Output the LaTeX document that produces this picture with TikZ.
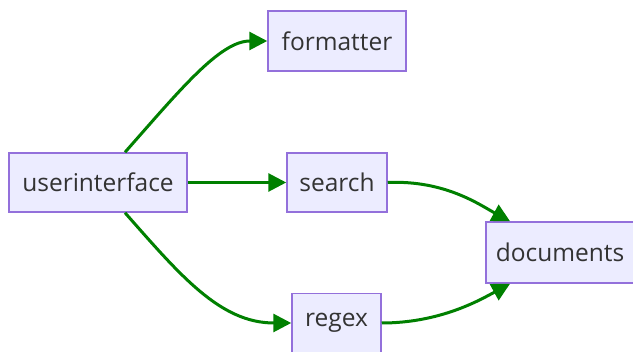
\documentclass[tikz,border=0pt]{standalone}
\usepackage{fontspec}
\setmainfont{Open Sans}
\usetikzlibrary{arrows.meta}
\definecolor{nodefill}{HTML}{ECECFF}
\definecolor{nodeline}{HTML}{9370DB}
\definecolor{edgegreen}{HTML}{008000}
\definecolor{txt}{HTML}{333333}
\begin{document}
\begin{tikzpicture}[x=1pt,y=-1pt,
  box/.style={draw=nodeline,fill=nodefill,line width=1.5pt,text=txt,font=\fontsize{24.5}{28}\selectfont,inner sep=0pt},
  edge/.style={draw=edgegreen,line width=3pt,-{Triangle[length=18pt,width=18pt]}}]
\useasboundingbox (0,0) rectangle (633,352);
\node[box,minimum width=178pt,minimum height=59pt] (ui) at (98,182.5) {userinterface};
\node[box,minimum width=138pt,minimum height=60pt] (formatter) at (337,41) {formatter};
\node[box,minimum width=100pt,minimum height=59pt] (search) at (337,182.5) {search};
\node[box,minimum width=89pt,minimum height=59pt] (regex) at (336.5,323) {regex};
\node[box,minimum width=148pt,minimum height=61pt] (documents) at (560,252.5) {documents};
\draw[edge] ([xshift=27pt]ui.north) .. controls (180,90) and (220,41) .. (formatter.west);
\draw[edge] (ui.east) -- (search.west);
\draw[edge] ([xshift=27pt]ui.south) .. controls (180,275) and (220,323) .. (regex.west);
\draw[edge] (search.east) .. controls (445,180) and (480,205) .. ([xshift=-50pt]documents.north);
\draw[edge] (regex.east) .. controls (440,323) and (480,300) .. ([xshift=-50pt]documents.south);
\end{tikzpicture}
\end{document}
